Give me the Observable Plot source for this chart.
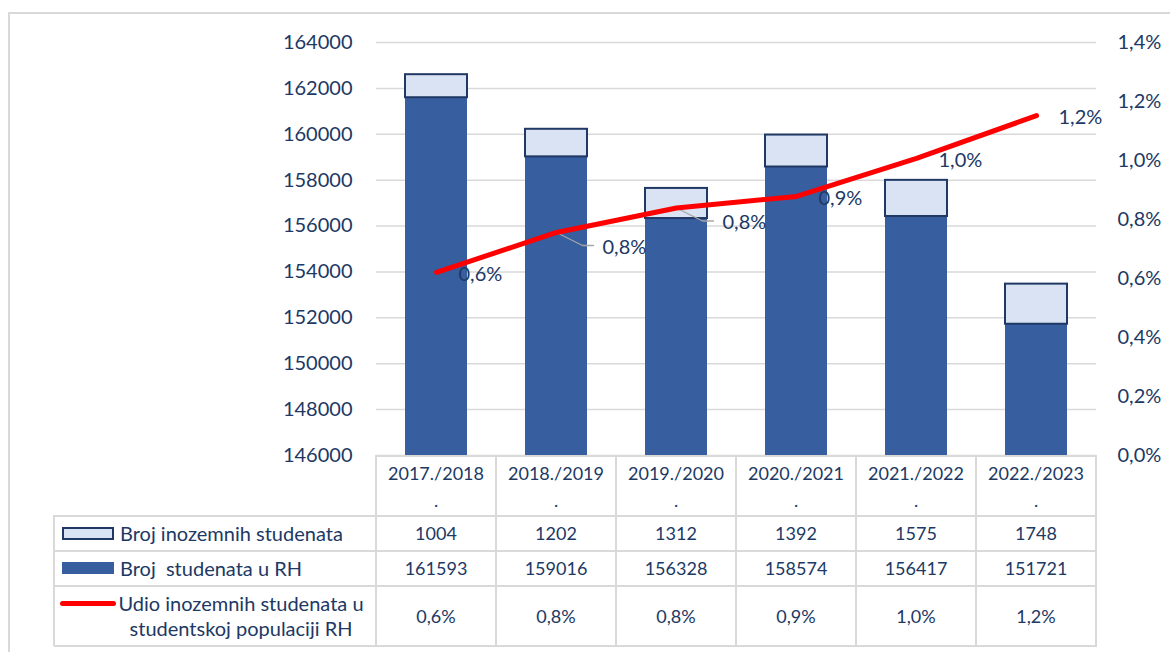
<!DOCTYPE html>
<html><head><meta charset="utf-8">
<script src="https://cdn.jsdelivr.net/npm/d3@7"></script>
<script src="https://cdn.jsdelivr.net/npm/@observablehq/plot@0.6"></script>
<style>
html,body{margin:0;padding:0;background:#fff;}
#wrap{position:relative;width:1170px;height:652px;overflow:hidden;font-family:Lato,sans-serif;color:#203864;}
#frame{position:absolute;left:8px;top:12px;width:1220px;height:720px;border:2px solid #d9d9d9;box-sizing:border-box;}
#chart{position:absolute;left:0;top:0;}
.hl,.vl{position:absolute;background:#d9d9d9;}
.t{position:absolute;font-size:18px;line-height:20px;white-space:pre;}
.lg{font-size:20px;line-height:22px;}
.c{transform:translate(-50%,-50%);text-align:center;}
.l{transform:translate(0,-50%);}
.sw{position:absolute;box-sizing:border-box;}
</style></head>
<body><div id="wrap"><div id="frame"></div><div id="chart"></div></div>
<script>
// ---- data ----
const years = ["2017./2018.", "2018./2019.", "2019./2020.", "2020./2021.", "2021./2022.", "2022./2023."];
const foreign = [1004, 1202, 1312, 1392, 1575, 1748];
const domestic = [161593, 159016, 156328, 158574, 156417, 151721];
const share = [0.621, 0.756, 0.839, 0.878, 1.007, 1.152]; // percent
const shareLabels = ["0,6%", "0,8%", "0,8%", "0,9%", "1,0%", "1,2%"];
const leftTicks = [146000, 148000, 150000, 152000, 154000, 156000, 158000, 160000, 162000, 164000];
const rightTicks = [0, 0.2, 0.4, 0.6, 0.8, 1.0, 1.2, 1.4];
const rightTickLabels = ["0,0%", "0,2%", "0,4%", "0,6%", "0,8%", "1,0%", "1,2%", "1,4%"];
const seriesNames = ["Broj inozemnih studenata", "Broj  studenata u RH", "Udio inozemnih studenata u\nstudentskoj populaciji RH"];

// ---- styles ----
const C = {dark: "#375E9F", light: "#DAE3F3", navy: "#203864", red: "#FF0000", grid: "#d9d9d9", leader: "#a6a6a6"};
const yMin = leftTicks[0], yMax = leftTicks[leftTicks.length - 1], pMax = rightTicks[rightTicks.length - 1];
const toLeft = p => yMin + p / pMax * (yMax - yMin);
const rightMap = new Map(rightTicks.map((p, i) => [toLeft(p), rightTickLabels[i]]));

const rows = years.map((year, i) => ({year, i, foreign: foreign[i], domestic: domestic[i], total: domestic[i] + foreign[i], s: toLeft(share[i]), label: shareLabels[i]}));
const leaderIdx = new Set([1, 2]);
const leaderShape = {draw(ctx) { ctx.moveTo(0, 0); ctx.lineTo(26, 13); ctx.lineTo(37, 13); }};

const L = 376, R = 1096, W = 1170;
const chart = Plot.plot({
  width: W, height: 456,
  marginLeft: L, marginRight: W - R, marginTop: 42, marginBottom: 1,
  style: {fontFamily: "Lato, sans-serif", fontSize: "20px", color: C.navy, background: "transparent", overflow: "visible"},
  x: {type: "band", domain: years, paddingInner: 0.48, paddingOuter: 0.24, axis: null},
  y: {domain: [yMin, yMax]},
  marks: [
    Plot.gridY(leftTicks, {stroke: C.grid, strokeOpacity: 1, strokeWidth: 1.5}),
    Plot.barY(rows, {x: "year", y1: yMin, y2: "domestic", fill: C.dark}),
    Plot.barY(rows, {x: "year", y1: "domestic", y2: "total", fill: C.light, stroke: C.navy, strokeWidth: 2}),
    Plot.vector(rows.filter(d => leaderIdx.has(d.i)), {x: "year", y: "s", length: 1, anchor: "start", shape: leaderShape, stroke: C.leader, strokeWidth: 1.3}),
    Plot.line(rows, {x: "year", y: "s", stroke: C.red, strokeWidth: 5, strokeLinecap: "round", strokeLinejoin: "round"}),
    Plot.text(rows.filter(d => !leaderIdx.has(d.i)), {x: "year", y: "s", text: "label", dx: 22, dy: 2, textAnchor: "start", fill: C.navy, fontSize: 20}),
    Plot.text(rows.filter(d => leaderIdx.has(d.i)), {x: "year", y: "s", text: "label", dx: 46, dy: 15, textAnchor: "start", fill: C.navy, fontSize: 20}),
    Plot.axisY(leftTicks, {anchor: "left", tickSize: 0, tickPadding: 24, tickFormat: d3.format("d"), label: null, fontSize: 20}),
    Plot.axisY(rightTicks.map(toLeft), {anchor: "right", tickSize: 0, tickPadding: 21, tickFormat: v => rightMap.get(v), label: null, textAnchor: "start", fontSize: 20})
  ]
});
document.getElementById("chart").appendChild(chart);

// ---- data table ----
const wrap = document.getElementById("wrap");
function add(cls, css, text) {
  const d = document.createElement("div");
  d.className = cls;
  Object.assign(d.style, css);
  if (text != null) d.textContent = text;
  wrap.appendChild(d);
  return d;
}
const step = (R - L) / years.length;
const tTop = 456, rowY = [516, 551, 586, 646], legL = 54, lw = 2;
// horizontal lines
add("hl", {left: L + "px", top: (tTop - 1) + "px", width: (R - L + 1) + "px", height: lw + "px"});
rowY.forEach(y => add("hl", {left: legL + "px", top: (y - 1) + "px", width: (R - legL + 1) + "px", height: lw + "px"}));
// vertical lines
add("vl", {left: (legL - 1) + "px", top: (rowY[0] - 1) + "px", width: lw + "px", height: (rowY[3] - rowY[0] + 1) + "px"});
for (let k = 0; k <= years.length; k++) add("vl", {left: (L + k * step - 1) + "px", top: (tTop - 1) + "px", width: lw + "px", height: (rowY[3] - tTop + 1) + "px"});
// header & values
const rowCenters = [533, 568, 616];
const rowVals = [foreign.map(String), domestic.map(String), shareLabels];
years.forEach((y, i) => {
  const cx = L + step * (i + 0.5);
  add("t c", {left: cx + "px", top: "473px"}, y.slice(0, -1));
  add("t c", {left: cx + "px", top: "500px"}, y.slice(-1));
  rowVals.forEach((vals, r) => add("t c", {left: cx + "px", top: rowCenters[r] + "px"}, vals[i]));
});
// legend keys
add("sw", {left: "62px", top: "527px", width: "52px", height: "13px", background: C.light, border: "2px solid " + C.navy});
add("sw", {left: "62px", top: "562px", width: "52px", height: "12px", background: C.dark});
add("sw", {left: "60px", top: "601px", width: "56px", height: "5px", background: C.red, borderRadius: "3px"});
add("t lg l", {left: "120px", top: "533px"}, seriesNames[0]);
add("t lg l", {left: "120px", top: "568px"}, seriesNames[1]);
const two = seriesNames[2].split("\n");
add("t lg c", {left: "241px", top: "603px"}, two[0]);
add("t lg c", {left: "241px", top: "628px"}, two[1]);
</script></body></html>
